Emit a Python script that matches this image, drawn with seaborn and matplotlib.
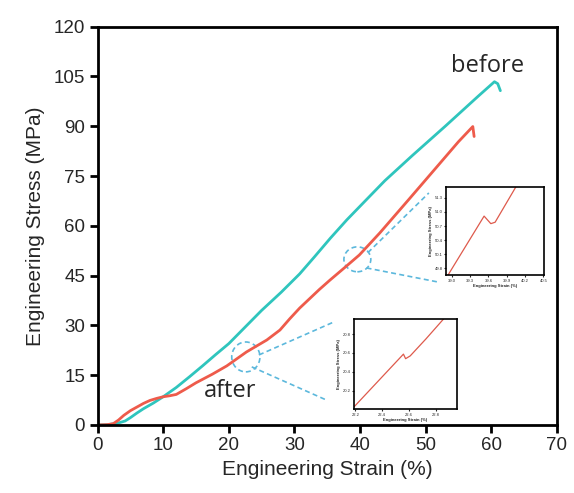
import numpy as np
import pandas as pd
import matplotlib
matplotlib.use("Agg")
import matplotlib.pyplot as plt
from matplotlib.patches import Ellipse
import seaborn as sns

# ---- data ----
before_strain = [0, 1.5, 3, 4.2, 5, 6, 7, 8.5, 10, 12, 14, 16, 18, 20, 22.5, 25, 28, 30.8, 33, 35.5,
                 38, 40.7, 43.8, 48, 53, 58, 60.5, 61.0, 61.4]
before_stress = [0, 0.1, 0.5, 1.2, 2.2, 3.6, 4.9, 6.6, 8.5, 11.3, 14.5, 17.8, 21.2, 24.5, 29.5, 34.5, 40.0, 45.5, 50.5, 56.3,
                 61.8, 67.3, 73.6, 81.2, 90.0, 99.0, 103.4, 102.8, 100.7]

after_strain = [0, 1.5, 2.4, 3.2, 4, 5, 6, 7, 8, 9, 10, 11, 12, 13.5, 15, 17.5, 19.7, 22.7, 25.8, 27.8, 29.3,
                30.8, 33.8, 35.4, 37.9, 39.9, 43, 47.3, 52, 55, 57.2, 57.4]
after_stress = [0, 0.1, 0.4, 1.5, 2.9, 4.3, 5.4, 6.5, 7.4, 8.0, 8.5, 8.8, 9.2, 10.9, 12.7, 15.3, 17.8, 22.0, 25.6, 28.6, 32.0,
                35.2, 40.8, 43.6, 47.8, 51.2, 57.8, 67.6, 78.4, 85.3, 89.9, 86.9]

inset1_strain = [38.94, 39.53, 39.64, 39.71, 40.05]
inset1_stress = [49.66, 50.91, 50.75, 50.78, 51.53]
inset1_xticks = [39.0, 39.3, 39.6, 39.9, 40.2, 40.5]
inset1_yticks = [49.8, 50.1, 50.4, 50.7, 51.0, 51.3]

inset2_strain = [22.194, 22.558, 22.574, 22.608, 22.726, 22.856]
inset2_stress = [20.036, 20.588, 20.540, 20.569, 20.750, 20.959]
inset2_xticks = [22.2, 22.4, 22.6, 22.8]
inset2_yticks = [20.2, 20.4, 20.6, 20.8]

x_ticks = [0, 10, 20, 30, 40, 50, 60, 70]
y_ticks = [0, 15, 30, 45, 60, 75, 90, 105, 120]

CYAN = "#2fc5bd"
RED = "#ee5b4b"
DASH = "#5cb8dc"

sns.set_style("white")
plt.rcParams["font.family"] = ["Liberation Sans", "DejaVu Sans"]

df_b = pd.DataFrame({"strain": before_strain, "stress": before_stress})
df_a = pd.DataFrame({"strain": after_strain, "stress": after_stress})

fig = plt.figure(figsize=(5.74, 4.93), dpi=100)
ax = fig.add_axes([0.170, 0.138, 0.800, 0.808])

sns.lineplot(data=df_b, x="strain", y="stress", sort=False, estimator=None, color=CYAN, lw=2.0, ax=ax)
sns.lineplot(data=df_a, x="strain", y="stress", sort=False, estimator=None, color=RED, lw=2.0, ax=ax)

ax.set_xlim(0, 70)
ax.set_ylim(0, 120)
ax.set_xticks(x_ticks)
ax.set_yticks(y_ticks)
ax.tick_params(axis="both", direction="out", length=6, width=2, labelsize=13.5, color="black",
               bottom=True, left=True, pad=3)
for s in ax.spines.values():
    s.set_linewidth(2)
    s.set_color("black")
ax.set_xlabel("Engineering Strain (%)", fontsize=15, labelpad=4)
ax.set_ylabel("Engineering Stress (MPa)", fontsize=15, labelpad=6)

ax.text(53.8, 106.4, "before", fontsize=17, family=["Open Sans", "DejaVu Sans"], ha="left", va="baseline")
ax.text(16.2, 8.4, "after", fontsize=17, family=["Open Sans", "DejaVu Sans"], ha="left", va="baseline")

# zoom circles
ax.add_patch(Ellipse((39.6, 49.9), 4.1, 7.5, fill=False, ec=DASH, lw=1.2, ls=(0, (3, 2))))
ax.add_patch(Ellipse((22.6, 20.5), 4.3, 9.0, fill=False, ec=DASH, lw=1.2, ls=(0, (3, 2))))
for (x0, y0, x1, y1) in [(41.2, 51.9, 50.5, 69.9), (41.0, 47.3, 51.8, 43.1),
                         (24.6, 21.1, 36.1, 31.1), (23.5, 17.5, 34.9, 7.5)]:
    ax.plot([x0, x1], [y0, y1], color=DASH, lw=1.2, ls=(0, (3, 2)), clip_on=False)

def make_inset(rect, xs, ys, xt, yt):
    ia = fig.add_axes(rect)
    d = pd.DataFrame({"x": xs, "y": ys})
    sns.lineplot(data=d, x="x", y="y", sort=False, estimator=None, color="#de5a4c", lw=0.9, ax=ia)
    ia.set_xticks(xt)
    ia.set_yticks(yt)
    ia.set_xticklabels([f"{v:.1f}" for v in xt])
    ia.set_yticklabels([f"{v:.1f}" for v in yt])
    ia.tick_params(direction="out", length=1.5, width=0.8, labelsize=3, pad=1, bottom=True, left=True)
    for s in ia.spines.values():
        s.set_linewidth(1.2)
        s.set_color("black")
    ia.set_xlabel("Engineering Strain (%)", fontsize=3, fontweight="bold", labelpad=1)
    ia.set_ylabel("Engineering Stress (MPa)", fontsize=3, fontweight="bold", labelpad=1)
    return ia

i1 = make_inset([0.777, 0.442, 0.171, 0.179], inset1_strain, inset1_stress, inset1_xticks, inset1_yticks)
i1.set_xlim(38.907, 40.512)
i1.set_ylim(49.66, 51.53)
i2 = make_inset([0.617, 0.170, 0.179, 0.183], inset2_strain, inset2_stress, inset2_xticks, inset2_yticks)
i2.set_xlim(22.192, 22.955)
i2.set_ylim(20.007, 20.959)

fig.savefig("out.png", dpi=100)
